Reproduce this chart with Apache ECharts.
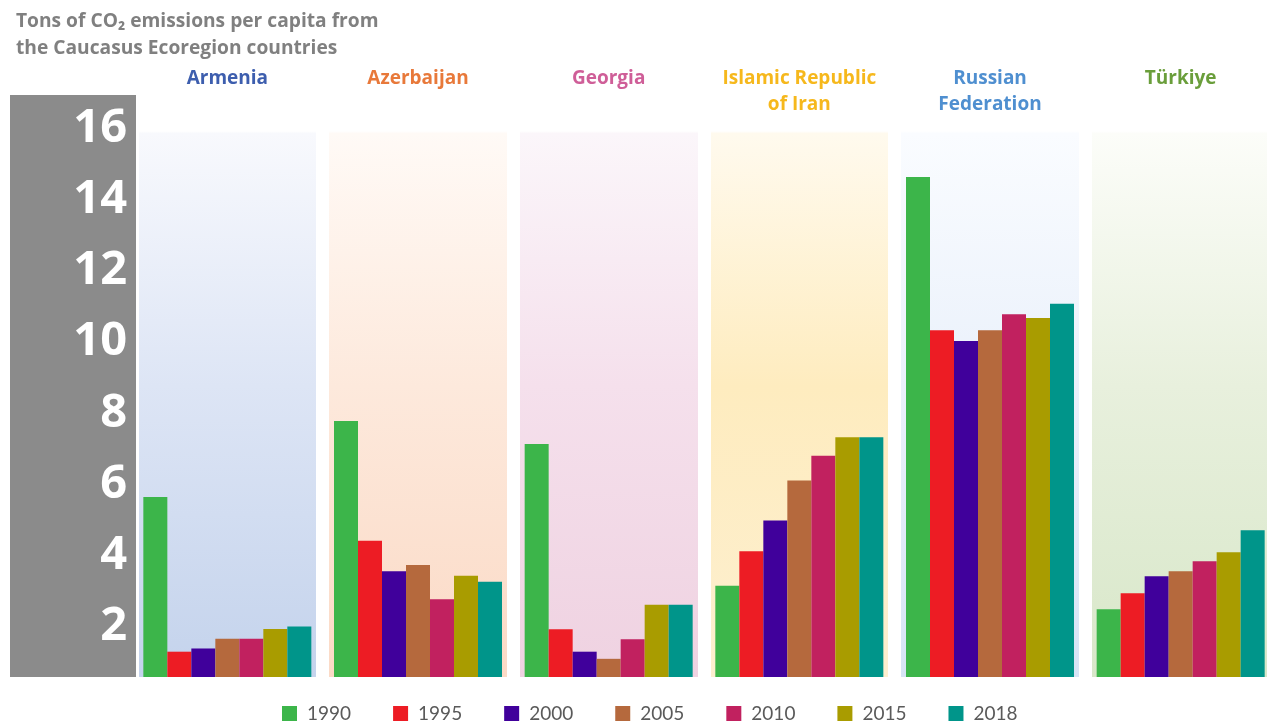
<!DOCTYPE html>
<html>
<head>
<meta charset="utf-8">
<script src="https://cdn.jsdelivr.net/npm/echarts@6/dist/echarts.min.js"></script>
<style>
html,body{margin:0;padding:0;background:#fff;}
#chart{width:1267px;height:723px;}
</style>
</head>
<body>
<div id="chart"></div>
<script>
const categories = ['Armenia', 'Azerbaijan', 'Georgia', 'Islamic Republic\nof Iran', 'Russian\nFederation', 'Türkiye'];
const years = ['1990', '1995', '2000', '2005', '2010', '2015', '2018'];
const v1990 = [5.65, 7.78, 7.14, 3.16, 14.63, 2.50];
const v1995 = [1.31, 4.42, 1.94, 4.13, 10.33, 2.95];
const v2000 = [1.40, 3.57, 1.31, 4.99, 10.03, 3.43];
const v2005 = [1.67, 3.74, 1.11, 6.11, 10.33, 3.57];
const v2010 = [1.67, 2.78, 1.66, 6.81, 10.78, 3.85];
const v2015 = [1.95, 3.44, 2.63, 7.33, 10.67, 4.10];
const v2018 = [2.02, 3.27, 2.63, 7.33, 11.07, 4.72];
const yTicks = [2, 4, 6, 8, 10, 12, 14, 16];

const values = [v1990, v1995, v2000, v2005, v2010, v2015, v2018];
const yearColors = ['#3cb54a', '#ed1c24', '#40009b', '#b5693d', '#c1215f', '#a99c00', '#00958a'];
const countryColors = ['#3d5eae', '#e8793a', '#cf5e98', '#f6b81c', '#4f8fd0', '#6a9e3b'];
const panelTop = ['#f8f9fd', '#fffaf6', '#fbf6fa', '#fffaee', '#fafcff', '#fcfdf9'];
const panelMid = ['#dde5f5', '#fde9dc', '#f5e0ec', '#feecbf', '#eaf1fb', '#e8f0dd'];
const panelBottom = ['#c4d3ec', '#fbdac6', '#efd2e1', '#fdefcf', '#d6e4f5', '#d8e7c9'];

const panelFills = panelTop.map((c, i) => ({
  type: 'linear', x: 0, y: 0, x2: 0, y2: 1,
  colorStops: [
    { offset: 0, color: '#ffffff' },
    { offset: 0.062, color: '#ffffff' },
    { offset: 0.066, color: c },
    { offset: 0.5, color: panelMid[i] },
    { offset: 1, color: panelBottom[i] }
  ]
}));

const chart = echarts.init(document.getElementById('chart'), null, { renderer: 'canvas' });
chart.setOption({
  backgroundColor: '#ffffff',
  animation: false,
  title: {
    text: 'Tons of CO₂ emissions per capita from\nthe Caucasus Ecoregion countries',
    left: 11, top: 3,
    textStyle: { fontFamily: 'Open Sans', fontWeight: 'bold', fontSize: 19.2, color: '#808080', lineHeight: 27 }
  },
  graphic: [{
    type: 'rect', z: 5,
    shape: { x: 10, y: 95, width: 126, height: 582 },
    style: { fill: '#8b8b8b' }
  }],
  legend: {
    data: years,
    left: 277, top: 699,
    icon: 'rect', itemWidth: 15, itemHeight: 15, itemGap: 42,
    textStyle: { fontFamily: 'Lato', fontSize: 19, color: '#5a5a5a', padding: [0, 0, 0, 5] }
  },
  grid: { left: 132, width: 1144, top: 95, bottom: 46, containLabel: false, outerBoundsMode: 'none' },
  xAxis: {
    type: 'category', data: categories, position: 'top',
    axisLine: { show: false }, axisTick: { show: false },
    axisLabel: {
      interval: 0, margin: 29, verticalAlign: 'top', lineHeight: 26,
      fontFamily: 'Open Sans', fontWeight: 'bold', fontSize: 19,
      color: (val, idx) => countryColors[idx]
    },
    splitArea: { show: true, areaStyle: { color: panelFills } },
    splitLine: { show: true, lineStyle: { color: '#ffffff', width: 13 } }
  },
  yAxis: {
    type: 'value', min: 0.6, max: 16.93, z: 10,
    axisLine: { show: false }, axisTick: { show: false }, splitLine: { show: false },
    axisLabel: {
      customValues: yTicks, margin: 5,
      fontFamily: 'Open Sans', fontWeight: 'bold', fontSize: 47, color: '#ffffff'
    }
  },
  series: years.map((y, i) => ({
    name: y, type: 'bar', data: values[i],
    barWidth: 24, barGap: '0%',
    itemStyle: { color: yearColors[i] }
  }))
});
</script>
</body>
</html>
